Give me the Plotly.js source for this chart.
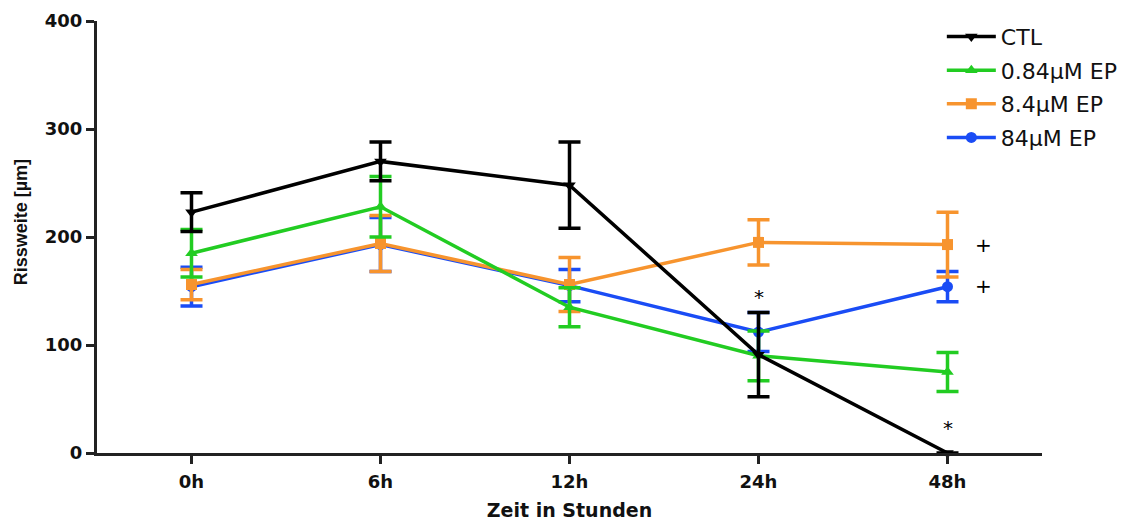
<!DOCTYPE html>
<html>
<head>
<meta charset="utf-8">
<script src="https://cdn.plot.ly/plotly-3.0.1.min.js"></script>
<style>html,body{margin:0;padding:0;background:#fff;}#chart{width:1135px;height:525px;}</style>
</head>
<body>
<div id="chart"></div>
<script>
const categories = ["0h", "6h", "12h", "24h", "48h"];
const seriesNames = ["CTL", "0.84µM EP", "8.4µM EP", "84µM EP"];
const ctlValues = [223, 270, 248, 91, 0];
const ctlErrors = [18, 18, 40, 39, 0];
const ep084Values = [185, 228, 135, 90, 75];
const ep084Errors = [22, 28, 18, 23, 18];
const ep84Values = [156, 194, 156, 195, 193];
const ep84Errors = [14, 26, 25, 21, 30];
const ep840Values = [154, 193, 155, 112, 154];
const ep840Errors = [18, 25, 15, 18, 14];
const yTicks = [0, 100, 200, 300, 400];

function tr(name, vals, errs, color, symbol, rank) {
  return {
    type: "scatter", mode: "lines+markers", name: name, x: categories, y: vals,
    legendgroup: name,
    line: {color: color, width: 3.5},
    marker: {color: color, symbol: symbol, size: 11},
    error_y: {type: "data", array: errs, visible: true, color: color, thickness: 3.5, width: 11},
    legendrank: rank, cliponaxis: false
  };
}
const data = [
  tr(seriesNames[3], ep840Values, ep840Errors, "#1a4cf5", "circle", 4),
  tr(seriesNames[2], ep84Values, ep84Errors, "#f7942e", "square", 3),
  tr(seriesNames[1], ep084Values, ep084Errors, "#22cc22", "triangle-up", 2),
  tr(seriesNames[0], ctlValues, ctlErrors, "#000000", "triangle-down", 1)
];
const annFont = {family: "DejaVu Sans, sans-serif", size: 20, color: "#000"};
const tickFont = {size: 18, family: "DejaVu Sans, sans-serif", weight: "bold", color: "#111"};
const layout = {
  width: 1135, height: 525,
  margin: {l: 97, r: 93, t: 21, b: 72},
  paper_bgcolor: "#fff", plot_bgcolor: "#fff",
  font: {family: "DejaVu Sans, sans-serif", color: "#000"},
  xaxis: {
    type: "category", range: [-0.5, 4.5], showgrid: false, zeroline: false,
    showline: true, linewidth: 3, linecolor: "#222",
    ticks: "outside", ticklen: 8, tickwidth: 3, tickcolor: "#222",
    ticklabelstandoff: 2,
    tickfont: tickFont,
    title: {text: "<b>Zeit in Stunden</b>", font: {size: 19, family: "DejaVu Sans, sans-serif", color: "#111"}, standoff: 14}
  },
  yaxis: {
    range: [0, 400], tickvals: yTicks, showgrid: false, zeroline: false,
    showline: true, linewidth: 3, linecolor: "#222",
    ticks: "outside", ticklen: 8, tickwidth: 3, tickcolor: "#222",
    tickfont: tickFont
  },
  legend: {
    x: 0.894, y: 1.012, xanchor: "left", yanchor: "top",
    font: {size: 22, color: "#111", family: "DejaVu Sans, sans-serif"}, bgcolor: "rgba(0,0,0,0)",
    traceorder: "grouped", tracegroupgap: 2, itemwidth: 49
  },
  annotations: [
    {xref: "paper", yref: "y", x: -0.081, y: 214, text: "<b>Rissweite [µm]</b>", textangle: -90,
     showarrow: false, xanchor: "center", yanchor: "middle",
     font: {size: 18, family: "Liberation Sans, Arial, sans-serif", color: "#111"}},
    {x: 3, y: 144, text: "*", showarrow: false, font: annFont},
    {x: 4, y: 23, text: "*", showarrow: false, font: annFont},
    {x: 4.19, y: 193, text: "+", showarrow: false, font: annFont},
    {x: 4.19, y: 155, text: "+", showarrow: false, font: annFont}
  ]
};
Plotly.newPlot("chart", data, layout, {displayModeBar: false, staticPlot: true});
</script>
</body>
</html>
